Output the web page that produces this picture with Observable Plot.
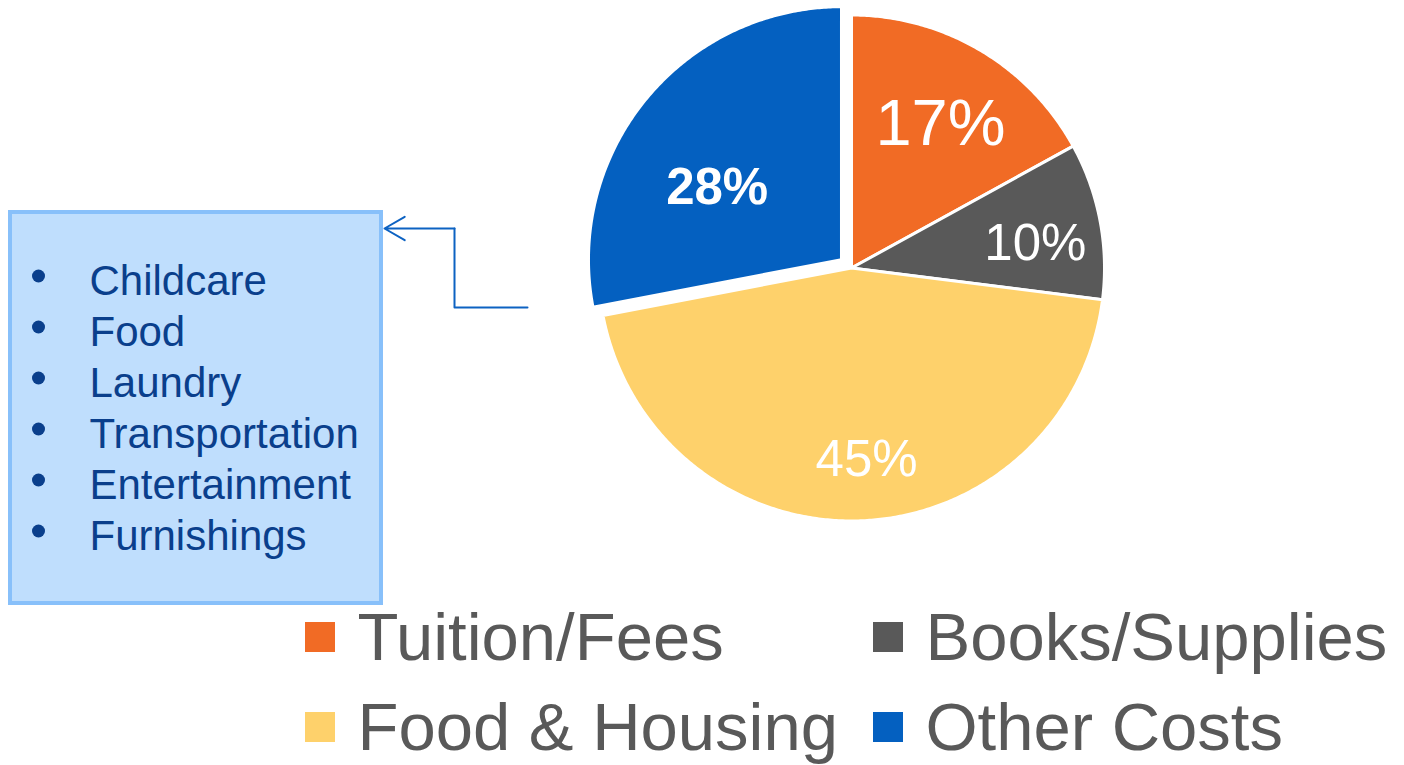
<!DOCTYPE html>
<html><head><meta charset="utf-8">
<script src="https://cdn.jsdelivr.net/npm/d3@7"></script>
<script src="https://cdn.jsdelivr.net/npm/@observablehq/plot@0.6"></script>
<style>
  html,body{margin:0;padding:0;background:#fff;}
  #chart svg{display:block;}
</style>
</head><body><div id="chart"></div>
<script>
// ---------- data ----------
const categories = ["Tuition/Fees", "Books/Supplies", "Food & Housing", "Other Costs"];
const shares = [17, 10, 45, 28];
const colors = ["#F16B25", "#595959", "#FED16B", "#0460C0"];
const otherCostsItems = ["Childcare", "Food", "Laundry", "Transportation", "Entertainment", "Furnishings"];

// ---------- layout ----------
const W = 1404, H = 765;
const FONT = "'Liberation Sans', Arial, Helvetica, sans-serif";
const pieLayout = {cx: 851, cy: 267.5, r: 253};
const explode = {"Other Costs": 13};
const labelLayout = {
  "Tuition/Fees":   {frac: 0.667, dAngle: 1.2,  size: 65, bold: false},
  "Books/Supplies": {frac: 0.733, dAngle: 3.4,  size: 51, bold: false},
  "Food & Housing": {frac: 0.758, dAngle: -2.7, size: 51, bold: false},
  "Other Costs":    {frac: 0.568, dAngle: -9.5, size: 51, bold: true}
};
const legendLayout = {colX: [305, 873], rowBase: [659, 749], swatch: 30, textGap: 52, size: 67};
const boxLayout = {x1: 10, x2: 381, y1: 212, y2: 603, firstBase: 294.5, step: 51, bulletX: 38, textX: 89, size: 42};

// ---------- pie geometry from the data ----------
const arcs = d3.pie().sort(null).value(d => d)(shares);
const rad = deg => deg * Math.PI / 180;
const slicePts = [];
const labelRows = [];
arcs.forEach((a, i) => {
  const cat = categories[i];
  const mid = (a.startAngle + a.endAngle) / 2;
  const off = explode[cat] || 0;
  const cx = pieLayout.cx + off * Math.sin(mid);
  const cy = pieLayout.cy - off * Math.cos(mid);
  slicePts.push({cat, x: cx, y: cy});
  const n = Math.max(8, Math.ceil((a.endAngle - a.startAngle) / rad(0.5)));
  for (let k = 0; k <= n; k++) {
    const t = a.startAngle + (a.endAngle - a.startAngle) * k / n;
    slicePts.push({cat, x: cx + pieLayout.r * Math.sin(t), y: cy - pieLayout.r * Math.cos(t)});
  }
  const L = labelLayout[cat];
  const la = mid + rad(L.dAngle);
  labelRows.push({
    cat, text: shares[i] + "%", size: L.size, bold: L.bold,
    x: cx + L.frac * pieLayout.r * Math.sin(la),
    y: cy - L.frac * pieLayout.r * Math.cos(la)
  });
});

// ---------- legend rows ----------
const legendRows = categories.map((cat, i) => {
  const col = i % 2, row = Math.floor(i / 2);
  const base = legendLayout.rowBase[row];
  const x0 = legendLayout.colX[col];
  const mid = base - 22;
  return {cat, x1: x0, x2: x0 + legendLayout.swatch, y1: mid - legendLayout.swatch / 2, y2: mid + legendLayout.swatch / 2,
          tx: x0 + legendLayout.textGap, ty: base - 0.32 * legendLayout.size};
});

// ---------- callout list ----------
const listRows = otherCostsItems.map((t, i) => {
  const base = boxLayout.firstBase + i * boxLayout.step;
  return {t, by: base - 19, ty: base - 0.32 * boxLayout.size};
});
const connector = [{x: 527, y: 307}, {x: 454, y: 307}, {x: 454, y: 228}];
const arrowSeg = [{x1: 454, y1: 228, x2: 384, y2: 228}];

const plot = Plot.plot({
  width: W, height: H,
  marginTop: 0, marginRight: 0, marginBottom: 0, marginLeft: 0,
  x: {domain: [0, W], range: [0, W], axis: null},
  y: {domain: [0, H], range: [0, H], axis: null},
  color: {domain: categories, range: colors},
  style: {fontFamily: FONT, background: "white"},
  marks: [
    // callout box
    Plot.rect([boxLayout], {x1: "x1", x2: "x2", y1: "y1", y2: "y2", fill: "#BFDEFD", stroke: "#88C0FA", strokeWidth: 4}),
    Plot.dot(listRows, {x: boxLayout.bulletX, y: "by", r: 6.5, fill: "#0A3F8C", stroke: "none"}),
    Plot.text(listRows, {x: boxLayout.textX, y: "ty", text: "t", textAnchor: "start", fontSize: boxLayout.size, fill: "#0A3F8C", fontFamily: FONT}),
    // connector
    Plot.line(connector, {x: "x", y: "y", stroke: "#0D62C2", strokeWidth: 2, curve: "linear"}),
    Plot.arrow(arrowSeg, {x1: "x1", y1: "y1", x2: "x2", y2: "y2", stroke: "#0D62C2", strokeWidth: 2, headLength: 20, headAngle: 60}),
    // pie slices
    Plot.line(slicePts, {x: "x", y: "y", z: "cat", fill: "cat", stroke: "white", strokeWidth: 3, curve: "linear-closed", strokeLinejoin: "round"}),
    // slice labels
    Plot.text(labelRows.filter(d => !d.bold), {x: "x", y: "y", text: "text", fontSize: "size", fill: "white", fontFamily: FONT}),
    Plot.text(labelRows.filter(d => d.bold), {x: "x", y: "y", text: "text", fontSize: "size", fill: "white", fontWeight: "bold", fontFamily: FONT}),
    // legend
    Plot.rect(legendRows, {x1: "x1", x2: "x2", y1: "y1", y2: "y2", fill: "cat"}),
    Plot.text(legendRows, {x: "tx", y: "ty", text: "cat", textAnchor: "start", fontSize: legendLayout.size, fill: "#595959", fontFamily: FONT})
  ]
});
document.getElementById("chart").appendChild(plot);
</script>
</body></html>
